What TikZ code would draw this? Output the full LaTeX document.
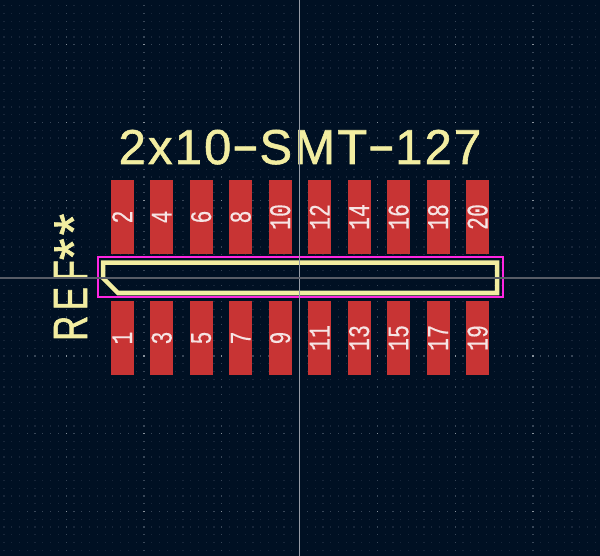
\documentclass[tikz,border=0pt]{standalone}
\usepackage{fontspec}
\setmainfont{Liberation Sans}
\newfontfamily\padfont[FakeStretch=0.72,FakeBold=0.2]{Liberation Mono}
\newfontfamily\silkfont[LetterSpace=4.4,FakeBold=1.2]{Liberation Sans}
\newfontfamily\reffont[FakeStretch=0.72,LetterSpace=12,FakeBold=1.2]{Liberation Sans}
\newfontfamily\starfont[FakeBold=1.2]{Liberation Sans}
\definecolor{boardbg}{RGB}{0,16,35}
\definecolor{padred}{RGB}{200,52,52}
\definecolor{silk}{RGB}{242,237,161}
\definecolor{courtyard}{RGB}{255,38,226}
\definecolor{padtext}{RGB}{246,228,228}
\definecolor{griddim}{RGB}{24,38,58}
\definecolor{gridmid}{RGB}{56,70,88}
\definecolor{gridtop}{RGB}{135,145,155}
\definecolor{crossv}{RGB}{150,155,165}
\definecolor{crossh}{RGB}{88,92,102}
\newcommand{\longdash}{\raisebox{0.05em}{\scalebox{1.72}[1]{-}}}
\newcommand{\refstars}{\raisebox{-6pt}{\starfont\fontsize{56}{56}\selectfont *\hspace{3pt}*}}
\tikzset{
    padbox/.style={rectangle, fill=padred, rotate=90, minimum width=74, minimum height=23,
        inner sep=0, text=padtext, font=\padfont\fontsize{30}{30}\selectfont},
    silktext/.style={text=silk, inner sep=0, font=\silkfont\fontsize{49}{49}\selectfont},
    reftext/.style={text=silk, inner sep=0, font=\reffont\fontsize{48}{48}\selectfont},
    griddot/.style={griddim}
}
\begin{document}
\begin{tikzpicture}[x=1pt,y=-1pt]
    \fill[boardbg] (0,0) rectangle (600,556);
    \useasboundingbox (0,0) rectangle (600,556);

    % grid
    \foreach \i in {-38,...,38}
        \foreach \j in {-35,...,35} {
            \fill[griddot] ({299+7.78*\i},{277.5+7.78*\j}) rectangle +(1.2,1.2);
        }
    \foreach \i in {-30,-20,...,30}
        \foreach \j in {-35,...,35} {
            \fill[gridmid] ({299+7.78*\i},{277.5+7.78*\j}) rectangle +(1.2,1.2);
            \fill[gridmid] ({299+7.78*\j},{277.5+7.78*\i}) rectangle +(1.2,1.2);
        }
    \foreach \i in {-30,-20,...,30}
        \foreach \j in {-30,-20,...,30} {
            \fill[gridtop] ({299+7.78*\i},{277.5+7.78*\j}) rectangle +(1.2,1.2);
        }

    % pads
    \foreach \k in {0,...,9} {
        \pgfmathtruncatemacro{\upper}{2*\k+2}
        \pgfmathtruncatemacro{\lower}{2*\k+1}
        \node[padbox] (pad\upper) at ({122.2+39.49*\k},217) {\upper};
        \node[padbox] (pad\lower) at ({122.2+39.49*\k},338) {\lower};
    }

    % outlines
    \draw[courtyard, line width=2] (97.7,257.5) rectangle (502.7,297.3);
    \draw[silk, line width=4.5, miter limit=10] (103,262.6) -- (497,262.6) -- (497,293) -- (118,293) -- (103,278) -- cycle;

    % texts
    \node[silktext, anchor=base] (title) at (300,164) {2x10\longdash SMT\longdash 127};
    \node[reftext, anchor=base west, rotate=90] (ref) at (87,341) {REF\refstars};

    % crosshair
    \draw[crossv, line width=1.2] (299.6,0) -- (299.6,556);
    \draw[crossh, line width=1.6] (0,278) -- (600,278);
\end{tikzpicture}
\end{document}
